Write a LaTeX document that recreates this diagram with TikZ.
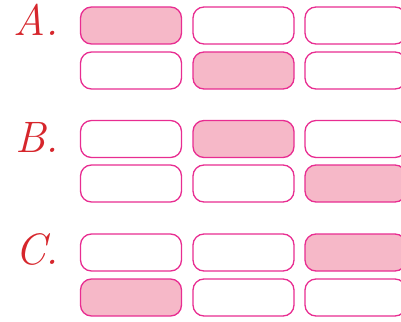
\documentclass[tikz,border=0pt]{standalone}
\usepackage{tikz}

\definecolor{boxline}{RGB}{232,45,145}
\definecolor{boxfill}{RGB}{246,184,200}
\definecolor{letterred}{RGB}{214,38,44}

\begin{document}
\begin{tikzpicture}[x=1pt,y=-1pt,
    box/.style={draw=boxline, line width=1.3pt, rounded corners=11pt, minimum width=101pt, minimum height=37pt, inner sep=0pt},
    marked/.style={box, fill=boxfill},
    letter/.style={anchor=base west, inner sep=0pt, text=letterred, font=\fontsize{44}{44}\selectfont\itshape}]
    	\useasboundingbox (0,0) rectangle (401,321);
    	\clip (0,0) rectangle (401,321);
    	
    	% A
    	\node[letter] (labA) at (13,36){A.};
    	\node[marked] (A11) at (131,25.5){};
    	\node[box] (A12) at (243.5,25.5){};
    	\node[box] (A13) at (355.5,25.5){};
    	\node[box] (A21) at (131,70.5){};
    	\node[marked] (A22) at (243.5,70.5){};
    	\node[box] (A23) at (355.5,70.5){};
    	
    	% B
    	\node[letter] (labB) at (15,152){B.};
    	\node[box] (B11) at (131,139){};
    	\node[marked] (B12) at (243.5,139){};
    	\node[box] (B13) at (355.5,139){};
    	\node[box] (B21) at (131,183.5){};
    	\node[box] (B22) at (243.5,183.5){};
    	\node[marked] (B23) at (355.5,183.5){};
    	
    	% C
    	\node[letter] (labC) at (15,264){C.};
    	\node[box] (C11) at (131,252.5){};
    	\node[box] (C12) at (243.5,252.5){};
    	\node[marked] (C13) at (355.5,252.5){};
    	\node[marked] (C21) at (131,297.5){};
    	\node[box] (C22) at (243.5,297.5){};
    	\node[box] (C23) at (355.5,297.5){};
    \end{tikzpicture}
\end{document}
